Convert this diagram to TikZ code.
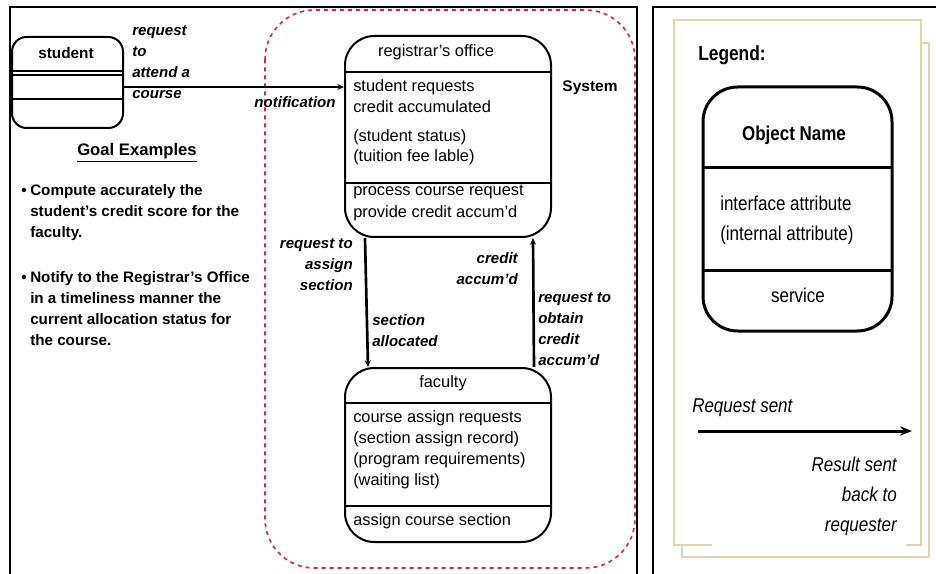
\documentclass[tikz,border=0pt]{standalone}
\usepackage{fontspec}
\setmainfont{Liberation Sans}
\newfontfamily\narrowfont[FakeStretch=0.85]{Liberation Sans}
\usetikzlibrary{arrows.meta}
\definecolor{sysred}{RGB}{210,40,60}
\definecolor{beige}{RGB}{228,210,168}
\begin{document}
\begin{tikzpicture}[x=0.75pt,y=-0.75pt,
  objbox/.style={draw, line width=1.5pt, rounded corners=22pt, inner sep=0pt},
  body/.style={font=\fontsize{12.3}{14}\selectfont, anchor=west, inner sep=0pt},
  lbl/.style={font=\fontsize{11.3}{15.75}\selectfont\bfseries\itshape, inner sep=0pt},
  goal/.style={font=\fontsize{11.4}{15.75}\selectfont\bfseries, inner sep=0pt, align=left, anchor=north west},
  lgd/.style={font=\fontsize{15}{22.5}\selectfont\narrowfont, inner sep=0pt},
  flow/.style={line width=2pt, -{Stealth[length=5pt,width=4.5pt]}},
]
\useasboundingbox (0,0) rectangle (936,574);
% frames
\draw[line width=1.2pt] (10,580) -- (10,7) -- (637,7) -- (637,580);
\draw[line width=1.2pt] (653,580) -- (653,7) -- (940,7);
% legend pages
\draw[beige, line width=1.5pt, fill=white] (682,43) rectangle (929,557);
\fill[white] (674,20) rectangle (921,545);
\draw[beige, line width=1.5pt] (712,545) -- (674,545) -- (674,20) -- (921,20) -- (921,545) -- (906,545);
% system boundary
\draw[sysred, dashed, line width=1.2pt, rounded corners=37pt] (265,10) rectangle (635,568);
\node[font=\fontsize{11.6}{13}\selectfont\bfseries, inner sep=0pt] (system) at (590,88) {System};

% student
\node[objbox, rounded corners=11pt, minimum width=83.25pt, minimum height=68.25pt] (stu) at (67.5,82.5) {};
\node[font=\fontsize{11.5}{13}\selectfont\bfseries, inner sep=0pt] (stuname) at (66,53) {student};
\draw[line width=1.5pt] (12,71) -- (123,71);
\draw[line width=1.5pt] (12,75) -- (123,75);
\draw[line width=1.5pt] (12,99) -- (123,99);

% registrar
\node[objbox, minimum width=154.5pt, minimum height=150.75pt] (reg) at (448,136.5) {};
\draw[line width=1.5pt] (345,72) -- (551,72);
\draw[line width=1.5pt] (345,183) -- (551,183);
\node[font=\fontsize{12.3}{14}\selectfont, inner sep=0pt] (regname) at (436,52) {registrar’s office};
\node[body] (r1) at (353,87) {student requests};
\node[body] (r2) at (353,107) {credit accumulated};
\node[body] (r3) at (353,137) {(student status)};
\node[body] (r4) at (353,157) {(tuition fee lable)};
\node[body] (r5) at (353,192) {process course request};
\node[body] (r6) at (353,213) {provide credit accum’d};

% faculty
\node[objbox, minimum width=154.5pt, minimum height=130.5pt] (fac) at (448,455) {};
\draw[line width=1.5pt] (345,403) -- (551,403);
\draw[line width=1.5pt] (345,506) -- (551,506);
\node[font=\fontsize{12.3}{14}\selectfont, inner sep=0pt] (facname) at (443,383) {faculty};
\node[body] (f1) at (353,418) {course assign requests};
\node[body] (f2) at (353,439) {(section assign record)};
\node[body] (f3) at (353,460) {(program requirements)};
\node[body] (f4) at (353,481) {(waiting list)};
\node[body] (f5) at (353,521) {assign course section};

% connectors
\coordinate (arrowy) at (0,87);
\draw[flow] (stu.east |- arrowy) -- (reg.west |- arrowy);
\draw[flow] ([xshift=-62.25pt]reg.south) -- ([xshift=-60pt]fac.north);
\draw[flow] ([xshift=64.5pt]fac.north) -- ([xshift=63.75pt]reg.south);

% labels
\node[lbl, align=left, anchor=north west] (l1) at (132,25) {request\\to\\attend a\\course};
\node[lbl] (l2) at (295,102) {notification};
\node[lbl, align=right, anchor=north east] (l3) at (353,238) {request to\\assign\\section};
\node[lbl, align=left, anchor=north west] (l4) at (372,314) {section\\allocated};
\node[lbl, align=right, anchor=north east] (l5) at (518,252) {credit\\accum’d};
\node[lbl, align=left, anchor=north west] (l6) at (538,292) {request to\\obtain\\credit\\accum’d};

% goal examples
\node[font=\fontsize{12.5}{14}\selectfont\bfseries, inner sep=0pt] (goalt) at (137,153) {\underline{Goal Examples}};
\node[font=\fontsize{11.4}{13}\selectfont\bfseries, inner sep=0pt] (b1) at (24,192) {•};
\node[goal] (g1) at (30,184) {Compute accurately the\\student’s credit score for the\\faculty.};
\node[font=\fontsize{11.4}{13}\selectfont\bfseries, inner sep=0pt] (b2) at (24,279) {•};
\node[goal] (g2) at (30,271) {Notify to the Registrar’s Office\\in a timeliness manner the\\current allocation status for\\the course.};

% legend
\node[lgd, font=\fontsize{15.3}{22.5}\selectfont\narrowfont\bfseries, anchor=west] (lgdt) at (698,55) {Legend:};
\node[objbox, line width=2.25pt, rounded corners=26pt, minimum width=141.75pt, minimum height=183pt] (obj) at (797.5,209) {};
\draw[line width=2.25pt] (703,168) -- (892,168);
\draw[line width=2.25pt] (703,271) -- (892,271);
\node[lgd, font=\fontsize{15}{17}\selectfont\narrowfont\bfseries] (objname) at (794,135) {Object Name};
\node[lgd, anchor=west] (ia) at (720,203) {interface attribute};
\node[lgd, anchor=west] (inta) at (720,235) {(internal attribute)};
\node[lgd] (serv) at (798,295) {service};
\node[lgd, font=\fontsize{15}{22.5}\selectfont\narrowfont\itshape, anchor=west] (reqs) at (692,408) {Request sent};
\coordinate (la) at (698,431);
\coordinate (lb) at (912,431);
\draw[line width=2.25pt, -{Stealth[length=9pt,width=7pt]}] (la) -- (lb);
\node[lgd, font=\fontsize{15}{22.5}\selectfont\narrowfont\itshape, align=right, anchor=north east] (ress) at (897,457) {Result sent\\back to\\requester};
\end{tikzpicture}
\end{document}
